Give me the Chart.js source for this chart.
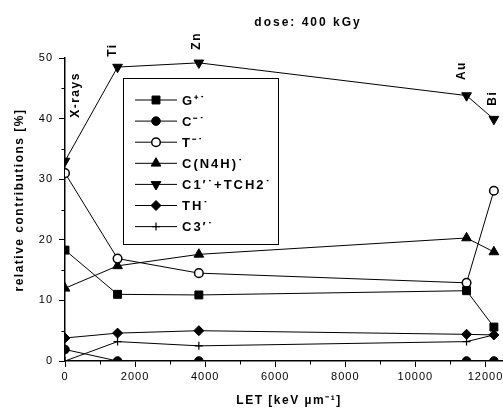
<!DOCTYPE html>
<html><head><meta charset="utf-8">
<script src="https://cdn.jsdelivr.net/npm/chart.js@4/dist/chart.umd.min.js"></script>
<style>html,body{margin:0;padding:0;background:#fff}canvas{display:block}</style>
</head><body>
<canvas id="c" width="503" height="410"></canvas>
<script>
// ---- data ----
const letValues = [0, 1500, 3820, 11460, 12240];          // LET [keV/µm]
const ionLabels = ['X-rays', 'Ti', 'Zn', 'Au', 'Bi'];
const seriesNames = ['G⁺˙', 'C⁻˙', 'T⁻˙', 'C(N4H)˙', 'C1′˙+TCH2˙', 'TH˙', 'C3′˙'];
const gValues    = [18.3, 11.0, 10.9, 11.6, 5.6];
const cValues    = [1.9, 0, 0, 0, 0];
const tValues    = [31.0, 16.9, 14.5, 12.9, 28.1];
const cn4hValues = [12.0, 15.7, 17.6, 20.3, 18.0];
const c1Values   = [33.0, 48.5, 49.2, 43.8, 39.9];
const thValues   = [3.8, 4.6, 5.0, 4.4, 4.3];
const c3Values   = [0, 3.2, 2.5, 3.2, 4.3];
const xTickValues = [0, 2000, 4000, 6000, 8000, 10000, 12000];
const yTickValues = [0, 10, 20, 30, 40, 50];
const xRange = [0, 12500];
const yRange = [0, 50];
const chartTitle = 'dose: 400 kGy';
const xTitle = 'LET [keV µm⁻¹]';
const yTitle = 'relative contributions [%]';

const FONT = '"Liberation Sans", Arial, sans-serif';
const allValues = [gValues, cValues, tValues, cn4hValues, c1Values, thValues, c3Values];
const styles = [
  {pointStyle: 'rect', radius: 5.6, bg: '#000'},
  {pointStyle: 'circle', radius: 4.3, bg: '#000'},
  {pointStyle: 'circle', radius: 4.3, bg: '#fff', bw: 1.5},
  {pointStyle: 'triangle', radius: 5.6, bg: '#000'},
  {pointStyle: 'triangle', radius: 5.6, bg: '#000', rotation: 180},
  {pointStyle: 'rectRot', radius: 5, bg: '#000'},
  {pointStyle: 'cross', radius: 4, bg: '#000', bw: 1.2}
];
const datasets = allValues.map((vals, i) => ({
  label: seriesNames[i],
  data: vals.map((v, k) => ({x: letValues[k], y: v})),
  borderColor: '#000',
  borderWidth: 1,
  backgroundColor: styles[i].bg,
  pointStyle: styles[i].pointStyle,
  pointRadius: styles[i].radius,
  pointRotation: styles[i].rotation || 0,
  pointBackgroundColor: styles[i].bg,
  pointBorderColor: '#000',
  pointBorderWidth: styles[i].bw || 1,
  tension: 0,
  fill: false
}));

const decor = {
  id: 'decor',
  beforeDraw(chart) { chart.ctx.letterSpacing = '1px'; },
  afterDraw(chart) {
    const {ctx, scales: {x, y}, chartArea: ca} = chart;
    ctx.save();
    ctx.strokeStyle = '#000'; ctx.fillStyle = '#000'; ctx.lineWidth = 1;
    // minor ticks (midway between major ticks)
    for (let i = 0; i < yTickValues.length - 1; i++) {
      const py = Math.round(y.getPixelForValue((yTickValues[i] + yTickValues[i + 1]) / 2)) + 0.5;
      ctx.beginPath(); ctx.moveTo(ca.left - 3.5, py); ctx.lineTo(ca.left, py); ctx.stroke();
    }
    for (let i = 0; i < xTickValues.length - 1; i++) {
      const px = Math.round(x.getPixelForValue((xTickValues[i] + xTickValues[i + 1]) / 2)) + 0.5;
      ctx.beginPath(); ctx.moveTo(px, ca.bottom); ctx.lineTo(px, ca.bottom + 3.5); ctx.stroke();
    }
    // chart title
    ctx.font = 'bold 12px ' + FONT;
    ctx.letterSpacing = '2px';
    ctx.textAlign = 'center'; ctx.textBaseline = 'middle';
    ctx.fillText(chartTitle, 308, 23);
    // axis titles
    ctx.letterSpacing = '1.5px';
    ctx.font = 'bold 12px ' + FONT;
    ctx.fillText(xTitle, 289, 401);
    ctx.save();
    ctx.translate(20, 200); ctx.rotate(-Math.PI / 2);
    ctx.fillText(yTitle, 0, 0);
    ctx.restore();
    // ion labels near the C1'+TCH2 points
    const offs = [[11, -66], [-5, -17], [-2, -22], [-5, -25], [-1, -21]];
    const meta = chart.getDatasetMeta(4);
    ionLabels.forEach((lab, i) => {
      const pt = meta.data[i];
      ctx.save();
      ctx.translate(pt.x + offs[i][0], pt.y + offs[i][1]);
      ctx.rotate(-Math.PI / 2);
      ctx.fillText(lab, 0, 0);
      ctx.restore();
    });
    // legend
    const L = 123.5, T = 78.5, R = 278.5, B = 244.5;
    ctx.lineWidth = 1;
    ctx.strokeRect(L, T, R - L, B - T);
    ctx.font = 'bold 13px ' + FONT;
    ctx.letterSpacing = '2px';
    ctx.textAlign = 'left';
    datasets.forEach((ds, i) => {
      const yy = 100 + i * 21.1;
      ctx.strokeStyle = '#000';
      ctx.beginPath(); ctx.moveTo(135, yy); ctx.lineTo(177, yy); ctx.lineWidth = 1; ctx.stroke();
      ctx.fillStyle = ds.pointBackgroundColor;
      ctx.lineWidth = ds.pointBorderWidth;
      Chart.helpers.drawPoint(ctx, {
        pointStyle: ds.pointStyle, radius: ds.pointRadius, rotation: ds.pointRotation,
        borderWidth: ds.pointBorderWidth
      }, 156, yy);
      ctx.fillStyle = '#000';
      ctx.fillText(ds.label, 182, yy + 1);
    });
    ctx.restore();
  }
};

new Chart(document.getElementById('c'), {
  type: 'line',
  data: {datasets},
  options: {
    responsive: false,
    animation: false,
    devicePixelRatio: 1,
    layout: {autoPadding: false, padding: {top: 58, right: 0, left: 0, bottom: 0}},
    plugins: {legend: {display: false}, tooltip: {enabled: false}, title: {display: false}},
    scales: {
      x: {
        type: 'linear', min: xRange[0], max: xRange[1],
        afterBuildTicks(s) { s.ticks = xTickValues.map(v => ({value: v})); },
        ticks: {color: '#000', font: {family: FONT, size: 11}, padding: 3, maxRotation: 0, autoSkip: false,
                callback: v => String(v)},
        grid: {drawOnChartArea: false, drawTicks: true, tickLength: 6, color: '#000', tickColor: '#000'},
        border: {display: true, color: '#000', width: 1.5},
        afterFit(s) { s.height = 49; s.paddingRight = 0; s.paddingLeft = 0; }
      },
      y: {
        type: 'linear', min: yRange[0], max: yRange[1],
        afterBuildTicks(s) { s.ticks = yTickValues.map(v => ({value: v})); },
        ticks: {color: '#000', font: {family: FONT, size: 11}, padding: 6, callback: v => String(v)},
        grid: {drawOnChartArea: false, drawTicks: true, tickLength: 6, color: '#000', tickColor: '#000'},
        border: {display: true, color: '#000', width: 1.5},
        afterFit(s) { s.width = 65; }
      }
    }
  },
  plugins: [decor]
});
</script>
</body></html>
